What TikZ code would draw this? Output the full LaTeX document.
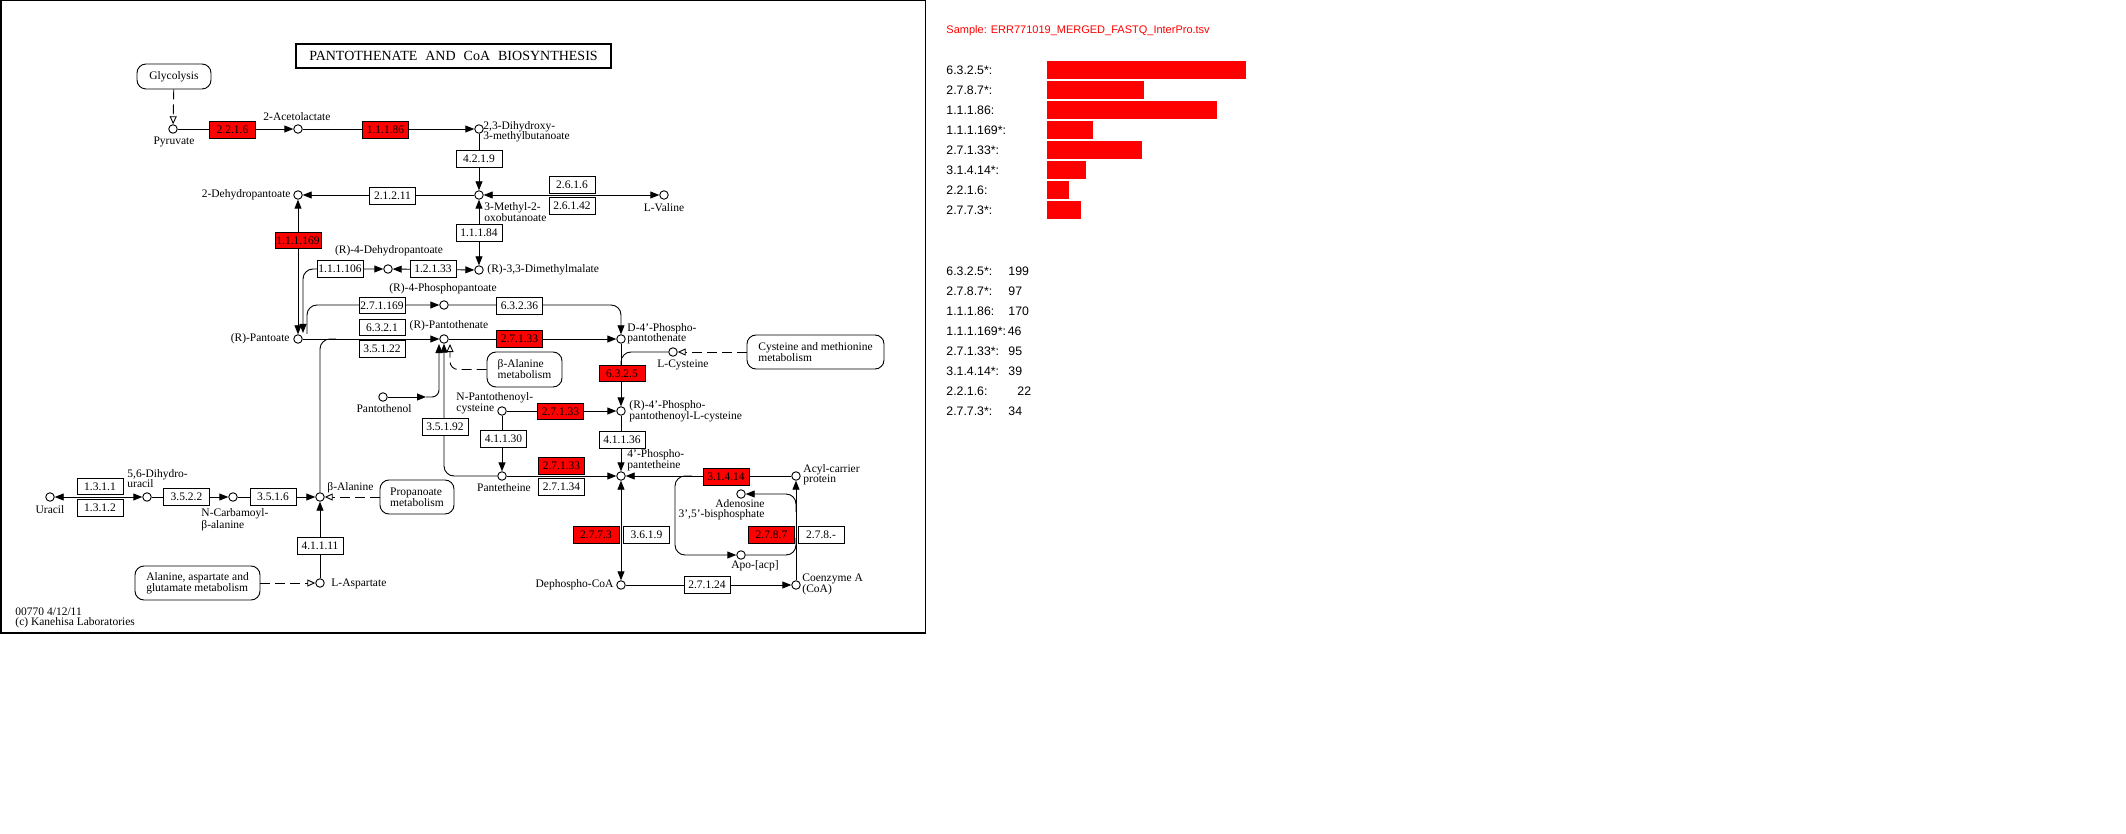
\documentclass[tikz,border=0pt]{standalone}
\usepackage{fontspec}
\setmainfont{Liberation Serif}
\newfontfamily\sansf{Liberation Sans}
\usetikzlibrary{arrows.meta,calc}
\definecolor{kred}{RGB}{255,0,0}
\newcommand\lblfont{\fontsize{11.5}{10.5}\selectfont}
\newcommand\ecfont{\fontsize{11.5}{11}\selectfont}
\newcommand\mapfont{\fontsize{11.5}{11}\selectfont}
\newcommand\sidefont{\sansf\fontsize{12.3}{12}\selectfont}
\begin{document}
\begin{tikzpicture}[x=1pt,y=-1pt,line width=0.9pt,
  cpd/.style={circle,draw,fill=white,minimum size=8.5pt,inner sep=0pt},
  ec/.style={draw,fill=white,minimum width=46pt,minimum height=16.5pt,inner sep=0pt,font=\ecfont},
  ecr/.style={ec,fill=kred},
  lbl/.style={font=\lblfont,inner sep=0pt,align=left},
  mapbox/.style={draw,fill=white,rounded corners=9pt,inner sep=0pt,font=\mapfont,align=left},
  arr/.style={-{Triangle[length=9pt,width=7pt]}},
  biarr/.style={{Triangle[length=9pt,width=7pt]}-{Triangle[length=9pt,width=7pt]}},
  oarr/.style={dash pattern=on 10pt off 5pt,-{Triangle[open,length=8pt,width=7pt,fill=white]}},
  side/.style={font=\sidefont,inner sep=0pt,anchor=west}
]
\useasboundingbox (0,0) rectangle (2126,834);
\fill[white] (0,0) rectangle (2126,834);
\draw[line width=1.5pt] (0.75,0.75) rectangle (925.5,633);

% ---------- compounds ----------
\node[cpd] (pyr) at (173,129) {};
\node[cpd] (acl) at (298,129) {};
\node[cpd] (dhm) at (479,129) {};
\node[cpd] (mob) at (479,195) {};
\node[cpd] (val) at (664,195) {};
\node[cpd] (dhp) at (298,195) {};
\node[cpd] (dmm) at (479,270) {};
\node[cpd] (r4d) at (388,269) {};
\node[cpd] (pant) at (298,339) {};
\node[cpd] (r4p) at (444,305) {};
\node[cpd] (pth) at (444,339) {};
\node[cpd] (d4p) at (621,339) {};
\node[cpd] (cys) at (673,352) {};
\node[cpd] (r4pc) at (621,411) {};
\node[cpd] (npc) at (502,411) {};
\node[cpd] (ptl) at (383,397) {};
\node[cpd] (ptt) at (502,476) {};
\node[cpd] (ppt) at (621,476) {};
\node[cpd] (acp) at (796,476) {};
\node[cpd] (adp) at (741,494) {};
\node[cpd] (apo) at (741,555) {};
\node[cpd] (dpc) at (621,585) {};
\node[cpd] (coa) at (796,585) {};
\node[cpd] (bal) at (320,497) {};
\node[cpd] (ncb) at (233,497) {};
\node[cpd] (dhu) at (147,497) {};
\node[cpd] (ura) at (50,497) {};
\node[cpd] (asp) at (320,583) {};

% ---------- map boxes ----------
\node[mapbox,minimum width=74pt,minimum height=25pt,align=center] (glyc) at (174,76.5) {Glycolysis};
\node[mapbox,minimum width=75pt,minimum height=35pt] (bam) at (524.5,369.5) {β-Alanine\\metabolism};
\node[mapbox,minimum width=74pt,minimum height=34pt] (prop) at (417,497) {Propanoate\\metabolism};
\node[mapbox,minimum width=137pt,minimum height=34pt] (cysm) at (815.5,352) {Cysteine and methionine\\metabolism};
\node[mapbox,minimum width=125pt,minimum height=34pt] (alam) at (197.5,583) {Alanine, aspartate and\\glutamate metabolism};

% ---------- helper coordinates ----------
\coordinate (p106) at (303,333);
\coordinate (p169) at (307,334);
\coordinate (pbal) at (336,339);
\coordinate (ptlm) at (426,397);
\coordinate (pthA) at (439,344);
\coordinate (pthC) at (450,344);
\coordinate (cysj) at (621,366);
\coordinate (br1) at (692,476);
\coordinate (br2) at (675,555);
\coordinate (rbr1) at (796,512);
\coordinate (rbr2) at (796,538);

% ---------- connectors ----------
\draw[oarr] (glyc) -- (pyr);
\draw[arr] (pyr) -- (acl);
\draw[arr] (acl) -- (dhm);
\draw[arr] (dhm) -- (mob);
\draw[biarr] (mob) -- (val);
\draw[arr] (mob) -- (dhp);
\draw[biarr] (mob) -- (dmm);
\draw[biarr] (dmm) -- (r4d);
\draw[biarr,rounded corners=10pt] (r4d) -| (p106);
\draw[biarr] (dhp) -- (pant);
\draw[arr,rounded corners=10pt] (p169) |- (r4p);
\draw[arr,rounded corners=10pt] (r4p) -| (d4p);
\draw[arr] (pant) -- (pth);
\draw[rounded corners=10pt] (bal) |- (pbal);
\draw[arr] (ptl) -- (ptlm);
\draw[arr,rounded corners=7pt] (ptlm) -| (pthA);
\draw[arr,rounded corners=10pt] (ptt) -| (pth);
\draw[oarr,rounded corners=8pt] (bam.west) -| (pthC);
\draw[arr] (pth) -- (d4p);
\draw[arr] (d4p) -- (r4pc);
\draw[rounded corners=10pt] (cys) -| (cysj);
\draw[oarr] (cysm) -- (cys);
\draw[arr] (npc) -- (r4pc);
\draw[arr] (npc) -- (ptt);
\draw[arr] (r4pc) -- (ppt);
\draw[arr] (ptt) -- (ppt);
\draw[arr] (acp) -- (ppt);
\draw[arr,rounded corners=10pt] (br1) -| (br2) -- (apo);
\draw[arr] (coa) -- (acp);
\draw[arr,rounded corners=10pt] (rbr1) |- (adp);
\draw[rounded corners=10pt] (apo) -| (rbr2);
\draw[biarr] (ppt) -- (dpc);
\draw[arr] (dpc) -- (coa);
\draw[biarr] (dhu) -- (ura);
\draw[arr] (dhu) -- (ncb);
\draw[arr] (ncb) -- (bal);
\draw[arr] (asp) -- (bal);
\draw[oarr] (prop) -- (bal);
\draw[oarr] (alam) -- (asp);

% ---------- enzyme boxes ----------
\node[ecr] (e2216) at (232.5,130) {2.2.1.6};
\node[ecr] (e11186) at (385.5,130) {1.1.1.86};
\node[ec] (e4219) at (479,159) {4.2.1.9};
\node[ec] (e2616) at (572,185) {2.6.1.6};
\node[ec] (e26142) at (572,206) {2.6.1.42};
\node[ec] (e21211) at (392.5,196) {2.1.2.11};
\node[ecr] (e111169) at (298,240.5) {1.1.1.169};
\node[ec] (e11184) at (479,233) {1.1.1.84};
\node[ec] (e111106) at (340,269) {1.1.1.106};
\node[ec] (e12133) at (433,269) {1.2.1.33};
\node[ec] (e271169) at (382,305.5) {2.7.1.169};
\node[ec] (e63236) at (519.5,306) {6.3.2.36};
\node[ec] (e6321) at (382,327.5) {6.3.2.1};
\node[ec] (e35122) at (382,349) {3.5.1.22};
\node[ecr] (e27133a) at (519.5,339) {2.7.1.33};
\node[ecr] (e6325) at (622,373.5) {6.3.2.5};
\node[ecr] (e27133b) at (560.5,411.5) {2.7.1.33};
\node[ec] (e35192) at (445,427) {3.5.1.92};
\node[ec] (e41130) at (503.5,439) {4.1.1.30};
\node[ec] (e41136) at (622,440) {4.1.1.36};
\node[ecr] (e27133c) at (561.5,466) {2.7.1.33};
\node[ec] (e27134) at (561.5,487) {2.7.1.34};
\node[ecr] (e31414) at (726,477) {3.1.4.14};
\node[ecr] (e2773) at (596,535) {2.7.7.3};
\node[ec] (e3619) at (646.5,535) {3.6.1.9};
\node[ecr] (e2787) at (771.5,535) {2.7.8.7};
\node[ec] (e278x) at (821,535) {2.7.8.-};
\node[ec] (e27124) at (707,585) {2.7.1.24};
\node[ec] (e1311) at (100,486.5) {1.3.1.1};
\node[ec] (e1312) at (100,508) {1.3.1.2};
\node[ec] (e3522) at (186.5,497) {3.5.2.2};
\node[ec] (e3516) at (273,497) {3.5.1.6};
\node[ec] (e41111) at (320,546) {4.1.1.11};

% ---------- compound labels ----------
\node[lbl] (tpyr) at (174,142) {Pyruvate};
\node[lbl] (tacl) at (297,117) {2-Acetolactate};
\node[lbl,anchor=west] (tdhm) at (483,132) {2,3-Dihydroxy-\\3-methylbutanoate};
\node[lbl,anchor=west] (tmob) at (484,212) {3-Methyl-2-\\oxobutanoate};
\node[lbl] (tval) at (664,208) {L-Valine};
\node[lbl,anchor=east] (tdhp) at (291,195) {2-Dehydropantoate};
\node[lbl,anchor=west] (tdmm) at (487,270) {(R)-3,3-Dimethylmalate};
\node[lbl] (tr4d) at (389,251) {(R)-4-Dehydropantoate};
\node[lbl] (tr4p) at (443,289) {(R)-4-Phosphopantoate};
\node[lbl,anchor=east] (tpant) at (290,339) {(R)-Pantoate};
\node[lbl] (tpth) at (449,326) {(R)-Pantothenate};
\node[lbl,anchor=west] (td4p) at (627,333.5) {D-4'-Phospho-\\pantothenate};
\node[lbl] (tcys) at (683,365) {L-Cysteine};
\node[lbl,anchor=west] (tnpc) at (456,403.5) {N-Pantothenoyl-\\cysteine};
\node[lbl,anchor=west] (tr4pc) at (629,411.5) {(R)-4'-Phospho-\\pantothenoyl-L-cysteine};
\node[lbl] (tptl) at (384,409) {Pantothenol};
\node[lbl] (tptt) at (504,488) {Pantetheine};
\node[lbl,anchor=west] (tppt) at (627,460) {4'-Phospho-\\pantetheine};
\node[lbl,anchor=west] (tacp) at (803,474.5) {Acyl-carrier\\protein};
\node[lbl,anchor=east,align=right] (tadp) at (765,509.5) {Adenosine\\3',5'-bisphosphate};
\node[lbl] (tapo) at (755,566) {Apo-[acp]};
\node[lbl,anchor=east] (tdpc) at (614,585) {Dephospho-CoA};
\node[lbl,anchor=west] (tcoa) at (802,584.5) {Coenzyme A\\(CoA)};
\node[lbl,anchor=west] (tbal) at (327,488) {β-Alanine};
\node[lbl,anchor=west] (tdhu) at (127,478.5) {5,6-Dihydro-\\uracil};
\node[lbl] (tura) at (50,510) {Uracil};
\node[lbl,anchor=west] (tncb) at (201,520) {N-Carbamoyl-\\β-alanine};
\node[lbl,anchor=west] (tasp) at (331,584) {L-Aspartate};

% ---------- title and footer ----------
\node[draw,line width=2.5pt,minimum width=315pt,minimum height=24pt,inner sep=0pt,font=\fontsize{14}{14}\selectfont] (title) at (453.5,56) {PANTOTHENATE\hspace{8pt}AND\hspace{8pt}CoA\hspace{8pt}BIOSYNTHESIS};
\node[lbl,anchor=west] (ft1) at (15,612) {00770 4/12/11};
\node[lbl,anchor=west] (ft2) at (15,623) {(c) Kanehisa Laboratories};

% ---------- side panel ----------
\node[side,text=kred,font=\sansf\fontsize{11}{12}\selectfont] (sample) at (946,31) {Sample: ERR771019\_MERGED\_FASTQ\_InterPro.tsv};
\foreach \lab/\len [count=\i from 0] in {6.3.2.5*:/199,2.7.8.7*:/97,1.1.1.86:/170,1.1.1.169*:/46,2.7.1.33*:/95,3.1.4.14*:/39,2.2.1.6:/22,2.7.7.3*:/34}{
  \node[side] (bl\i) at (946,70+20*\i) {\lab};
  \fill[kred] (1047,61+20*\i) rectangle ++(\len,18);
  \node[side] (cl\i) at (946,271+20*\i) {\lab};
}
\node[side] (n0) at (1008,271) {199};
\node[side] (n1) at (1008,291) {97};
\node[side] (n2) at (1008,311) {170};
\node[side,anchor=west] (n3) at ([xshift=1pt]cl3.east) {46};
\node[side] (n4) at (1008,351) {95};
\node[side] (n5) at (1008,371) {39};
\node[side] (n6) at (1017,391) {22};
\node[side] (n7) at (1008,411) {34};
\end{tikzpicture}
\end{document}
